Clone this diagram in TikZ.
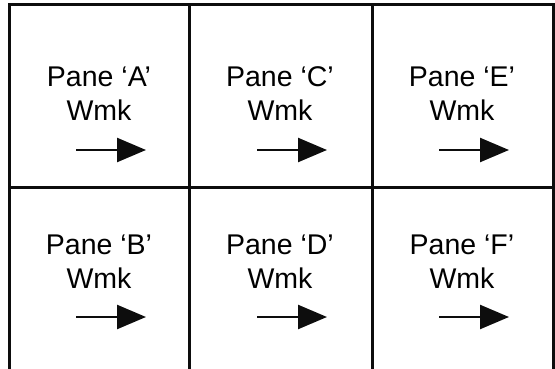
\documentclass[tikz,border=0pt]{standalone}
\usepackage{fontspec}
\setmainfont{Liberation Sans}
\usetikzlibrary{arrows.meta}
\definecolor{mainBlack}{gray}{0.05}

\begin{document}
\begin{tikzpicture}[x=1pt, y=-1pt,
    pane/.style={inner sep=0pt, anchor=base, font=\fontsize{28.5}{34}\selectfont},
    wmk/.style={-{Triangle[length=29pt, width=24pt]}, line width=2.4pt, mainBlack}]
    \useasboundingbox (0,0) rectangle (555,369);

    % frame and grid
    \draw[line width=3pt, mainBlack] (9,369) -- (9,5) -- (553,5) -- (553,369);
    \draw[line width=3pt, mainBlack] (9,187) -- (553,187);
    \foreach \x in {189,372}
        \draw[line width=3pt, mainBlack] (\x,5) -- (\x,369);

    % panes
    \foreach \p/\cx/\by in {A/99/87, C/280/87, E/462/87, B/99/254, D/280/254, F/462/254} {
        \node[pane] (pane\p) at (\cx,\by) {Pane ‘\p’};
        \node[pane] (wmk\p) at (\cx,\by+34) {Wmk};
        \coordinate (s\p) at (\cx-23,\by+63);
        \coordinate (e\p) at (\cx+47,\by+63);
        \draw[wmk] (s\p) -- (e\p);
    }
\end{tikzpicture}
\end{document}
